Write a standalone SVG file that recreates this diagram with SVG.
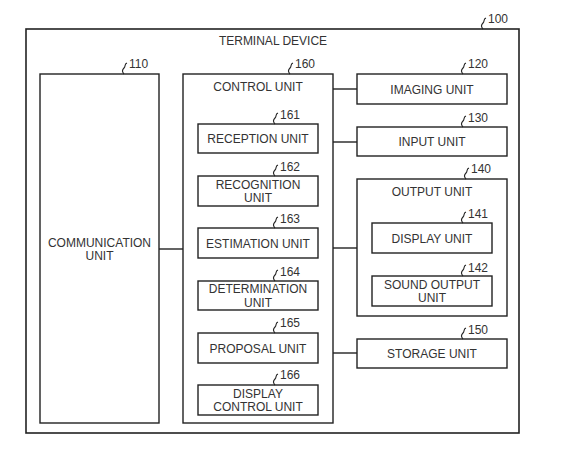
<svg xmlns="http://www.w3.org/2000/svg" xmlns:xlink="http://www.w3.org/1999/xlink" width="574" height="466" viewBox="0 0 574 466">
<style>
.b{fill:#fff;stroke:#222;stroke-width:1.4}
.o{fill:none;stroke:#222;stroke-width:1.6}
.t{font-family:"Liberation Sans",Arial,sans-serif;font-size:12px;fill:#333;text-anchor:middle}
.n{font-family:"Liberation Sans",Arial,sans-serif;font-size:12px;fill:#333}
.c{stroke:#222;stroke-width:1.4;fill:none}
.s{stroke:#222;stroke-width:1.1;fill:none}
</style>
<defs>
<path id="sq" d="M0,0 C-2,-2 -2,-4 0,-6 C2,-8 0,-10 3,-11"/>
</defs>
<rect width="574" height="466" fill="#fff"/>
<g id="terminal-device">
<rect class="o" x="26" y="29" width="493" height="404"/>
<text class="t" x="273" y="45">TERMINAL DEVICE</text>
<use href="#sq" class="s" x="483" y="29"/>
<text class="n" x="488" y="22.5">100</text>
</g>
<g id="connectors">
<line class="c" x1="159" y1="249" x2="183" y2="249"/>
<line class="c" x1="333" y1="89" x2="357" y2="89"/>
<line class="c" x1="333" y1="142" x2="357" y2="142"/>
<line class="c" x1="333" y1="248" x2="357" y2="248"/>
<line class="c" x1="333" y1="353" x2="357" y2="353"/>
</g>
<g id="communication-unit">
<rect class="b" x="40" y="74" width="119" height="349"/>
<text class="t" x="99.5" y="246.5">COMMUNICATION</text>
<text class="t" x="99.5" y="260">UNIT</text>
<use href="#sq" class="s" x="124" y="74"/>
<text class="n" x="129" y="67.5">110</text>
</g>
<g id="control-unit">
<rect class="b" x="183" y="74" width="150" height="349"/>
<text class="t" x="258" y="90.5">CONTROL UNIT</text>
<use href="#sq" class="s" x="290" y="74"/>
<text class="n" x="295" y="67.5">160</text>
</g>
<g id="reception-unit">
<rect class="b" x="198" y="124" width="120" height="29"/>
<text class="t" x="258" y="143">RECEPTION UNIT</text>
<use href="#sq" class="s" x="275" y="124"/>
<text class="n" x="280" y="118.5">161</text>
</g>
<g id="recognition-unit">
<rect class="b" x="198" y="176" width="120" height="30"/>
<text class="t" x="258" y="188.6">RECOGNITION</text>
<text class="t" x="258" y="202.1">UNIT</text>
<use href="#sq" class="s" x="275" y="176"/>
<text class="n" x="280" y="170.5">162</text>
</g>
<g id="estimation-unit">
<rect class="b" x="198" y="228" width="120" height="30"/>
<text class="t" x="258" y="247.5">ESTIMATION UNIT</text>
<use href="#sq" class="s" x="275" y="228"/>
<text class="n" x="280" y="222.5">163</text>
</g>
<g id="determination-unit">
<rect class="b" x="198" y="281" width="120" height="29"/>
<text class="t" x="258" y="293.1">DETERMINATION</text>
<text class="t" x="258" y="306.6">UNIT</text>
<use href="#sq" class="s" x="275" y="281"/>
<text class="n" x="280" y="275.5">164</text>
</g>
<g id="proposal-unit">
<rect class="b" x="198" y="333" width="120" height="30"/>
<text class="t" x="258" y="352.5">PROPOSAL UNIT</text>
<use href="#sq" class="s" x="275" y="333"/>
<text class="n" x="280" y="326.5">165</text>
</g>
<g id="display-control-unit">
<rect class="b" x="198" y="385" width="120" height="30"/>
<text class="t" x="258" y="397.6">DISPLAY</text>
<text class="t" x="258" y="411.1">CONTROL UNIT</text>
<use href="#sq" class="s" x="275" y="385"/>
<text class="n" x="280" y="378.5">166</text>
</g>
<g id="imaging-unit">
<rect class="b" x="357" y="74" width="150" height="30"/>
<text class="t" x="432" y="93.5">IMAGING UNIT</text>
<use href="#sq" class="s" x="463" y="74"/>
<text class="n" x="468" y="68">120</text>
</g>
<g id="input-unit">
<rect class="b" x="357" y="127" width="150" height="29"/>
<text class="t" x="432" y="146">INPUT UNIT</text>
<use href="#sq" class="s" x="463" y="127"/>
<text class="n" x="468" y="121.5">130</text>
</g>
<g id="output-unit">
<rect class="b" x="357" y="179" width="150" height="137"/>
<text class="t" x="432" y="195.5">OUTPUT UNIT</text>
<use href="#sq" class="s" x="466" y="179"/>
<text class="n" x="471" y="172.5">140</text>
</g>
<g id="display-unit">
<rect class="b" x="372" y="223" width="120" height="30"/>
<text class="t" x="432" y="242.5">DISPLAY UNIT</text>
<use href="#sq" class="s" x="463" y="223"/>
<text class="n" x="468" y="217.5">141</text>
</g>
<g id="sound-output-unit">
<rect class="b" x="372" y="276" width="120" height="30"/>
<text class="t" x="432" y="288.6">SOUND OUTPUT</text>
<text class="t" x="432" y="302.1">UNIT</text>
<use href="#sq" class="s" x="463" y="276"/>
<text class="n" x="468" y="271.5">142</text>
</g>
<g id="storage-unit">
<rect class="b" x="357" y="339" width="150" height="29"/>
<text class="t" x="432" y="358">STORAGE UNIT</text>
<use href="#sq" class="s" x="463" y="339"/>
<text class="n" x="468" y="333.5">150</text>
</g>
</svg>
